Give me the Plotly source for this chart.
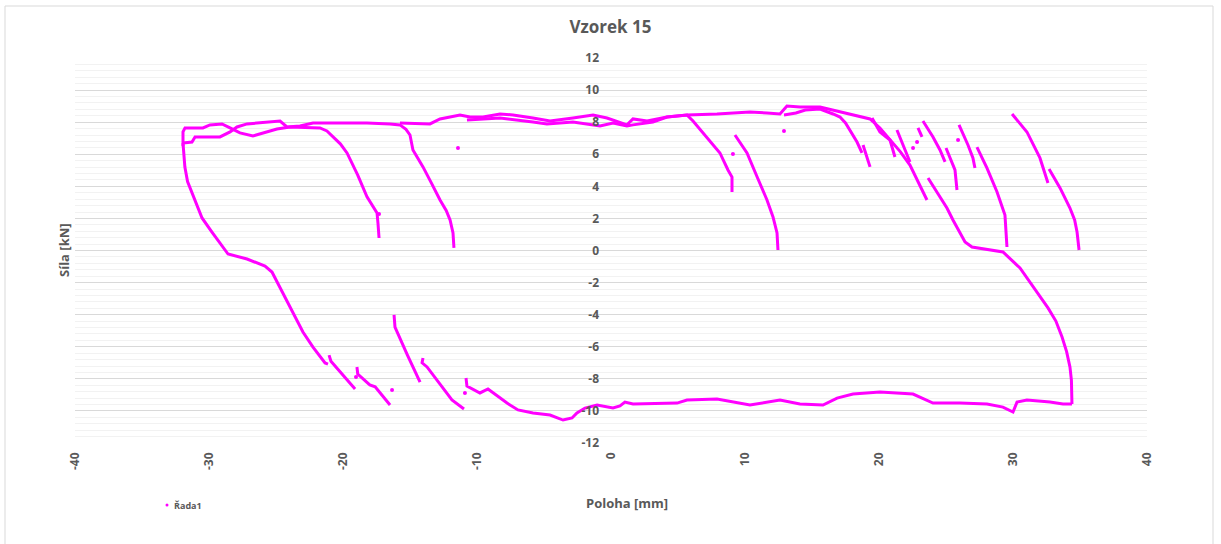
import plotly.graph_objects as go

# Force vs. position record of sample 15, stored as separate traced curves.
# Position [mm] on x, force [kN] on y.

# Outer loop, left corner: upper top line and the unloading curve near -20 mm
top_upper_x = [-31.94, -31.94, -31.79, -30.45, -29.93, -29.03, -28.43, -27.69, -26.72, -25.67,
               -24.93, -23.96, -22.24, -21.72, -21.20, -20.75, -20.20, -19.70, -18.90, -18.21,
               -17.70, -17.46, -17.39, -17.31]
top_upper_y = [6.50, 7.39, 7.64, 7.64, 7.83, 7.89, 7.64, 7.33, 7.14, 7.39,
               7.57, 7.70, 7.64, 7.64, 7.45, 7.08, 6.65, 6.08, 4.70, 3.34,
               2.70, 2.34, 1.71, 0.78]

# Lower top line and the unloading curve near -14 mm
top_lower_x = [-31.94, -31.27, -31.04, -30.15, -29.18, -28.43, -27.91, -27.16, -26.19, -25.22,
               -24.70, -24.18, -23.21, -22.24, -20.75, -18.21, -16.49, -15.75, -15.30, -15.00,
               -14.78, -14.03, -13.40, -12.76, -12.30, -12.01, -11.79, -11.72]
top_lower_y = [6.70, 6.76, 7.08, 7.08, 7.08, 7.39, 7.70, 7.89, 7.95, 8.01,
               8.07, 7.70, 7.76, 7.95, 7.95, 7.95, 7.89, 7.83, 7.55, 7.20,
               6.27, 5.21, 4.20, 3.15, 2.50, 1.90, 1.09, 0.16]

# Top branch running right up to the unloading cluster at 20-23 mm
top_main_x = [-15.75, -13.51, -12.76, -11.27, -10.52, -9.55, -8.28, -7.31, -5.82, -4.55,
              -2.84, -1.34, -0.30, 1.19, 1.64, 2.69, 4.18, 5.67, 7.91, 10.37,
              11.64, 12.61, 13.13, 14.10, 15.60, 16.57, 17.84, 18.58, 19.33, 20.07,
              20.82, 21.60, 22.31, 23.06, 23.58]
top_main_y = [7.95, 7.89, 8.20, 8.45, 8.32, 8.32, 8.51, 8.45, 8.26, 8.07,
              8.26, 8.45, 8.26, 7.83, 8.20, 8.07, 8.32, 8.45, 8.51, 8.63,
              8.57, 8.51, 9.01, 8.95, 8.95, 8.76, 8.51, 8.39, 8.20, 7.64,
              6.89, 6.15, 5.33, 4.08, 3.15]

# Second top line in the middle and the unloading curve near 7 mm
top_mid_x = [-10.75, -8.28, -5.82, -4.78, -2.84, -1.79, -0.82, 0.15, 1.19, 1.64,
             3.13, 4.18, 5.67, 6.12, 6.87, 7.50, 8.13, 8.73, 9.03, 9.03]
top_mid_y = [8.14, 8.26, 8.01, 7.89, 8.01, 7.89, 7.76, 7.95, 7.76, 7.83,
             8.01, 8.32, 8.45, 8.07, 7.33, 6.75, 6.08, 5.02, 4.58, 3.65]

# Short double line near 13-19 mm
top_step_x = [12.91, 13.80, 14.50, 15.60, 16.57, 17.09, 17.50, 17.84, 18.36, 18.73]
top_step_y = [8.45, 8.57, 8.76, 8.82, 8.51, 8.32, 7.95, 7.51, 6.76, 6.08]

# Unloading curves on the right side of the top branch
unload_10_x = [9.25, 10.15, 10.90, 11.64, 12.09, 12.39, 12.46]
unload_10_y = [7.20, 6.08, 4.60, 3.15, 2.09, 1.09, 0.03]
unload_19_x = [18.81, 19.33]
unload_19_y = [6.58, 5.21]
unload_20_x = [19.48, 20.07, 20.82, 21.19]
unload_20_y = [8.26, 7.39, 6.89, 5.83]
unload_21_x = [21.34, 22.31]
unload_21_y = [7.51, 5.52]
unload_23_x = [22.91, 23.21]
unload_23_y = [7.64, 7.08]
unload_24_x = [23.28, 24.03, 24.55, 24.93]
unload_24_y = [8.07, 7.08, 6.27, 5.52]
unload_25_x = [25.00, 25.67, 25.82]
unload_25_y = [6.39, 5.02, 3.77]
unload_26_x = [25.97, 26.64, 27.01, 27.16]
unload_26_y = [7.83, 6.58, 5.77, 5.14]
unload_28_x = [27.31, 28.06, 28.81, 29.40, 29.55]
unload_28_y = [6.45, 5.14, 3.65, 2.21, 0.22]
unload_31_x = [29.93, 31.04, 32.01, 32.61]
unload_31_y = [8.51, 7.39, 5.77, 4.21]
unload_34_x = [32.69, 33.51, 34.25, 34.60, 34.78, 34.93]
unload_34_y = [5.08, 3.90, 2.65, 1.90, 1.15, 0.03]

# Right branch going down to the bottom
right_branch_x = [23.66, 25.07, 25.52, 26.42, 26.94, 29.25, 30.52, 31.49, 32.61, 33.20,
                  33.66, 34.00, 34.25, 34.36, 34.40, 34.40]
right_branch_y = [4.52, 2.65, 1.90, 0.53, 0.22, -0.09, -1.09, -2.28, -3.58, -4.40,
                  -5.39, -6.30, -7.26, -8.10, -8.82, -9.57]

# Bottom branch from right to left
bottom_x = [34.40, 33.73, 32.76, 31.04, 30.30, 30.00, 29.25, 28.06, 26.04, 24.03,
            22.54, 20.07, 18.06, 16.87, 15.82, 14.10, 12.61, 10.37, 7.91, 5.67,
            4.93, 2.91, 1.64, 1.04, 0.67, 0.15, -1.04, -1.94, -2.54, -2.91,
            -3.58, -4.55, -5.82, -6.94, -7.76, -9.18, -9.78, -10.75, -10.82]
bottom_y = [-9.57, -9.57, -9.45, -9.32, -9.45, -10.07, -9.76, -9.57, -9.51, -9.51,
            -8.95, -8.82, -8.95, -9.20, -9.63, -9.57, -9.32, -9.63, -9.26, -9.32,
            -9.51, -9.57, -9.57, -9.45, -9.69, -9.82, -9.63, -9.82, -10.13, -10.44,
            -10.57, -10.26, -10.13, -9.94, -9.51, -8.63, -8.88, -8.45, -7.95]

# Left branch of the outer loop
left_branch_x = [-31.94, -31.90, -31.80, -31.60, -31.30, -31.04, -30.52, -29.78, -29.18, -28.58,
                 -27.16, -25.82, -25.30, -24.48, -23.73, -22.99, -22.24, -21.34, -21.12]
left_branch_y = [6.70, 6.00, 5.20, 4.30, 3.65, 3.15, 2.03, 1.15, 0.47, -0.22,
                 -0.53, -0.97, -1.34, -2.65, -3.83, -5.08, -6.02, -7.01, -7.08]

# Reloading curves below the bottom-left corner
reload_21_x = [-21.04, -20.90, -19.10]
reload_21_y = [-6.52, -6.90, -8.63]
reload_19_x = [-18.96, -18.90, -18.00, -17.60, -16.49]
reload_19_y = [-7.26, -7.70, -8.38, -8.50, -9.63]
reload_16_x = [-16.19, -16.12, -15.20, -14.25]
reload_16_y = [-4.02, -4.77, -6.50, -8.20]
reload_14_x = [-14.03, -14.10, -13.73, -11.87, -10.97]
reload_14_y = [-6.70, -7.00, -7.26, -9.32, -9.88]

# Isolated single readings
dots_x = [-17.31, -11.42, 9.10, 12.91, 22.54, 22.84, 25.90, -19.03, -16.34, -10.90]
dots_y = [2.28, 6.39, 6.02, 7.45, 6.39, 6.76, 6.89, -7.89, -8.70, -8.88]

curves = [
    (top_upper_x, top_upper_y), (top_lower_x, top_lower_y), (top_main_x, top_main_y),
    (top_mid_x, top_mid_y), (top_step_x, top_step_y), (unload_10_x, unload_10_y),
    (unload_19_x, unload_19_y), (unload_20_x, unload_20_y), (unload_21_x, unload_21_y),
    (unload_23_x, unload_23_y), (unload_24_x, unload_24_y), (unload_25_x, unload_25_y),
    (unload_26_x, unload_26_y), (unload_28_x, unload_28_y), (unload_31_x, unload_31_y),
    (unload_34_x, unload_34_y), (right_branch_x, right_branch_y), (bottom_x, bottom_y),
    (left_branch_x, left_branch_y), (reload_21_x, reload_21_y), (reload_19_x, reload_19_y),
    (reload_16_x, reload_16_y), (reload_14_x, reload_14_y),
]

x_ticks = [-40, -30, -20, -10, 0, 10, 20, 30, 40]
y_ticks = [-12, -10, -8, -6, -4, -2, 0, 2, 4, 6, 8, 10, 12]

MAGENTA = "#ff00ff"
GRAY = "#595959"
FONT = "Open Sans"

# Join all curves into one trace, separated by gaps
xs, ys = [], []
for cx, cy in curves:
    xs += cx + [None]
    ys += cy + [None]

fig = go.Figure()
fig.add_trace(go.Scatter(
    x=xs, y=ys, mode="lines", name="Řada1", showlegend=False,
    line=dict(color=MAGENTA, width=3), connectgaps=False, hoverinfo="skip",
))
fig.add_trace(go.Scatter(
    x=dots_x, y=dots_y, mode="markers", name="Řada1", showlegend=False,
    marker=dict(color=MAGENTA, size=4), hoverinfo="skip",
))

W, H = 1221, 544
L, R, T, B = 75, 74, 58, 101
pw, ph = W - L - R, H - T - B


def px(xp):
    return (xp - L) / pw


def py(yp):
    return (H - B - yp) / ph


fig.update_layout(
    width=W, height=H,
    margin=dict(l=L, r=R, t=T, b=B, autoexpand=False),
    paper_bgcolor="white", plot_bgcolor="white",
    showlegend=False,
    title=dict(text="Vzorek 15", x=0.5, xanchor="center", y=1 - 27 / H, yanchor="middle",
               font=dict(family=FONT, size=17, color=GRAY, weight="bold")),
    xaxis=dict(
        range=[-40, 40], tickvals=x_ticks, ticktext=[str(v) for v in x_ticks],
        tickangle=-90, showgrid=False, zeroline=False, showline=False,
        ticks="", ticklabelstandoff=6,
        tickfont=dict(family=FONT, size=12, color=GRAY, weight="bold"),
    ),
    yaxis=dict(
        range=[-12, 12], tickvals=y_ticks, ticktext=[str(v) for v in y_ticks],
        anchor="free", position=0.5, showline=False, zeroline=False,
        showgrid=True, gridcolor="#d9d9d9", gridwidth=1, ticks="", ticklabelstandoff=12,
        minor=dict(dtick=0.4, showgrid=True, gridcolor="#f2f2f2", gridwidth=1),
        tickfont=dict(family=FONT, size=12, color=GRAY, weight="bold"),
    ),
    annotations=[
        dict(text="Poloha [mm]", xref="paper", yref="paper", x=px(627), y=py(503),
             showarrow=False, xanchor="center", yanchor="middle",
             font=dict(family=FONT, size=13, color=GRAY, weight="bold")),
        dict(text="Síla [kN]", xref="paper", yref="paper", x=px(64), y=py(250),
             showarrow=False, xanchor="center", yanchor="middle", textangle=-90,
             font=dict(family=FONT, size=13, color=GRAY, weight="bold")),
        dict(text="Řada1", xref="paper", yref="paper", x=px(172), y=py(505),
             showarrow=False, xanchor="left", yanchor="middle",
             font=dict(family=FONT, size=9, color=GRAY, weight="bold")),
    ],
    shapes=[
        dict(type="rect", xref="paper", yref="paper",
             x0=px(5), x1=px(1213), y0=py(560), y1=py(6),
             line=dict(color="#d9d9d9", width=1), fillcolor="rgba(0,0,0,0)", layer="below"),
        dict(type="circle", xref="paper", yref="paper",
             x0=px(165.5), x1=px(168.5), y0=py(506.5), y1=py(503.5),
             line=dict(width=0), fillcolor=MAGENTA),
    ],
)

fig.write_html("out.html")
